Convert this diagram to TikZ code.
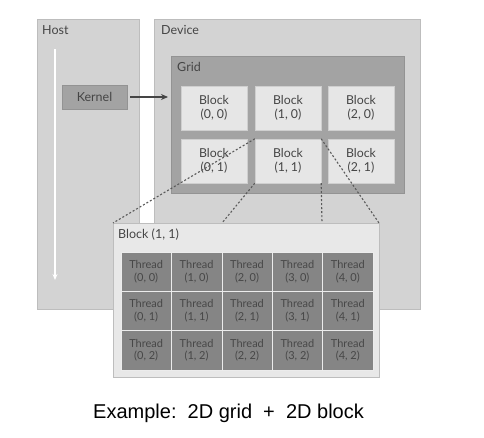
\documentclass[tikz,border=0pt]{standalone}
\usepackage{fontspec}
\setmainfont{Lato}
\newfontfamily\capfont{Liberation Sans}
\usetikzlibrary{arrows.meta}
\definecolor{bgbox}{HTML}{D3D3D3}
\definecolor{bgedge}{HTML}{BDBDBD}
\definecolor{gridfill}{HTML}{A3A3A3}
\definecolor{blockfill}{HTML}{E6E6E6}
\definecolor{panelfill}{HTML}{E8E8E8}
\definecolor{threadfill}{HTML}{858585}
\definecolor{txt}{HTML}{454545}
\definecolor{dashc}{HTML}{5A5A5A}
\tikzset{
  region/.style={draw=bgedge, fill=bgbox, line width=0.8pt},
  gridbox/.style={draw=gridfill!90!black, fill=gridfill, line width=0.6pt},
  blockbox/.style={draw=blockfill!90!black, fill=blockfill, line width=0.4pt, minimum width=66pt, minimum height=44pt, inner sep=0pt, align=center, font=\fontsize{12.3}{14}\selectfont, text=txt},
  threadbox/.style={draw=white!85!gray, fill=threadfill, line width=0.6pt, minimum width=50.4pt, minimum height=39.3pt, inner sep=0pt, align=center, font=\fontsize{11}{12.5}\selectfont, text=black!72},
  lbl/.style={anchor=north west, inner sep=0pt, text=txt, font=\fontsize{12.5}{14}\selectfont},
  zoomline/.style={dashc, line width=1.1pt, dash pattern=on 2pt off 2pt},
}
\begin{document}
\begin{tikzpicture}[x=1pt,y=-1pt]
\useasboundingbox[fill=white] (0,0) rectangle (484,438);
% Host and Device
\draw[region] (37,19) rectangle (139,309);
\draw[region] (154,19) rectangle (420,309);
\node[lbl] (hostlbl) at (42,25) {Host};
\node[lbl] (devlbl) at (161,25) {Device};
% timeline
\coordinate (tl1) at (55,49);
\coordinate (tl2) at (55,280);
\draw[white, line width=1.2pt, -{Stealth[length=6pt,width=5pt]}] (tl1) -- (tl2);
% Kernel
\node[draw=gridfill!90!black, fill=gridfill, minimum width=65pt, minimum height=24pt, inner sep=0pt, text=txt, font=\fontsize{12.5}{14}\selectfont] (kernel) at (94.5,97) {Kernel};
% Grid
\draw[gridbox] (171,56) rectangle (404,193);
\node[lbl] (gridlbl) at (177,62) {Grid};
\node[blockbox] (b00) at (214,108) {Block\\(0, 0)};
\node[blockbox] (b10) at (288,108) {Block\\(1, 0)};
\node[blockbox] (b20) at (361,108) {Block\\(2, 0)};
\node[blockbox] (b01) at (214,161) {Block\\(0, 1)};
\node[blockbox] (b11) at (288,161) {Block\\(1, 1)};
\node[blockbox] (b21) at (361,161) {Block\\(2, 1)};
\coordinate (kstart) at (130,97);
\coordinate (kend) at (168,97);
\draw[txt, line width=1.3pt, -{Stealth[length=7pt,width=6pt]}] (kstart) -- (kend);
% Block (1,1) panel
\draw[draw=bgedge, fill=panelfill, line width=0.8pt] (113,223) rectangle (379,377);
\node[lbl] (panellbl) at (118,229) {Block (1, 1)};
\foreach \i in {0,...,4}{
  \foreach \j in {0,...,2}{
    \node[threadbox] (t\i\j) at ({121+25.2+50.4*\i},{252+19.65+39.3*\j}) {Thread\\(\i, \j)};
  }
}
% zoom lines
\coordinate (p1) at (113,223);
\coordinate (p2) at (222,223);
\coordinate (p3) at (322,223);
\coordinate (p4) at (379,223);
\draw[zoomline] (b11.north west) -- (p1);
\draw[zoomline] (b11.south west) -- (p2);
\draw[zoomline] (b11.south east) -- (p3);
\draw[zoomline] (b11.north east) -- (p4);
% caption
\node[anchor=base west, inner sep=0pt, font=\capfont\fontsize{20}{22}\selectfont] (cap) at (93,418) {Example:\ \ 2D grid\ \ +\ \ 2D block};
\end{tikzpicture}
\end{document}
